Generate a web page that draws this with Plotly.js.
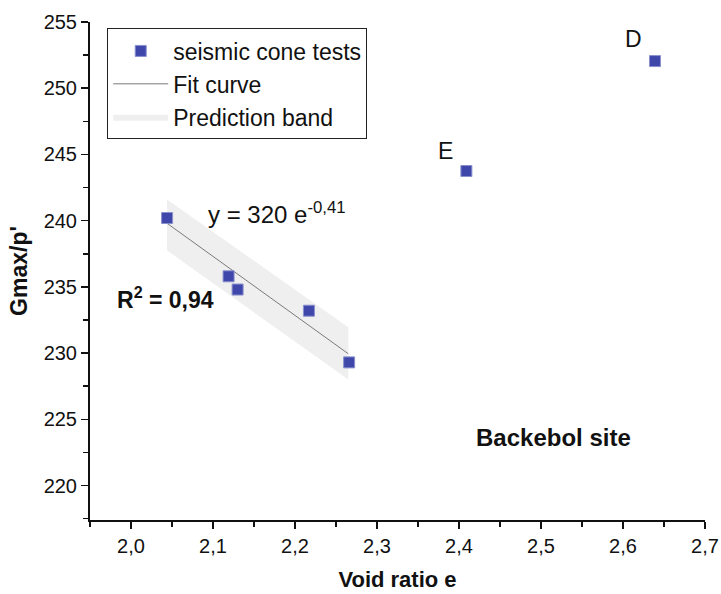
<!DOCTYPE html>
<html>
<head>
<meta charset="utf-8">
<script src="https://cdn.plot.ly/plotly-3.0.1.min.js"></script>
<style>html,body{margin:0;padding:0;background:#fff;}#chart{width:721px;height:594px;}</style>
</head>
<body>
<div id="chart"></div>
<script>
// Measured points (void ratio e, Gmax/p')
const voidRatio = [2.044, 2.119, 2.130, 2.217, 2.266, 2.409, 2.639];
const gmaxRatio = [240.2, 235.8, 234.8, 233.2, 229.3, 243.75, 252.05];
const pointLabels = ["", "", "", "", "", "E", "D"];

// Fit curve
const fitX = [2.044, 2.155, 2.265];
const fitY = [239.8, 234.85, 229.95];

// Prediction band
const bandX = [2.044, 2.265];
const bandUpper = [241.6, 231.95];
const bandLower = [237.75, 228.0];

const font = "Liberation Sans, Arial, sans-serif";

const traces = [
  {x: bandX, y: bandLower, mode: 'lines', line: {width: 0, color: 'rgba(0,0,0,0)'},
   showlegend: false, hoverinfo: 'skip', type: 'scatter'},
  {x: bandX, y: bandUpper, mode: 'lines', line: {width: 0, color: 'rgba(0,0,0,0)'},
   fill: 'tonexty', fillcolor: '#efefef', name: 'Prediction band', legendrank: 3, type: 'scatter'},
  {x: fitX, y: fitY, mode: 'lines', line: {width: 1, color: '#7a7a7a'},
   name: 'Fit curve', legendrank: 2, type: 'scatter'},
  {x: voidRatio, y: gmaxRatio, mode: 'markers', name: 'seismic cone tests', legendrank: 1,
   marker: {symbol: 'square', size: 11, color: '#3F47AB', line: {width: 1, color: '#8a90cc'}},
   type: 'scatter'}
];

const annotations = [
  {x: 2.0917, y: 240.55, xref: 'x', yref: 'y', text: 'y = 320 e<sup>-0,41</sup>', showarrow: false,
   xanchor: 'left', yanchor: 'middle', font: {family: font, size: 24, color: '#111'}},
  {x: 1.9805, y: 234.13, xref: 'x', yref: 'y', text: '<b>R<sup>2</sup> = 0,94</b>', showarrow: false,
   xanchor: 'left', yanchor: 'middle', font: {family: font, size: 23, color: '#111'}},
  {x: 2.5155, y: 223.66, xref: 'x', yref: 'y', text: '<b>Backebol site</b>', showarrow: false,
   xanchor: 'center', yanchor: 'middle', font: {family: font, size: 24, color: '#111'}},
  {x: 2.3836, y: 245.26, xref: 'x', yref: 'y', text: pointLabels[5], showarrow: false,
   xanchor: 'center', yanchor: 'middle', font: {family: font, size: 23, color: '#111'}},
  {x: 2.6124, y: 253.75, xref: 'x', yref: 'y', text: pointLabels[6], showarrow: false,
   xanchor: 'center', yanchor: 'middle', font: {family: font, size: 23, color: '#111'}}
];

const layout = {
  width: 721, height: 594,
  margin: {l: 90, r: 16, t: 22, b: 74},
  paper_bgcolor: '#fff', plot_bgcolor: '#fff',
  separators: ',.',
  font: {family: font, color: '#111'},
  showlegend: true,
  legend: {x: 0.028, y: 0.987, xanchor: 'left', yanchor: 'top',
    bordercolor: '#222', borderwidth: 1, bgcolor: '#fff',
    font: {family: font, size: 23, color: '#111'}, itemwidth: 55,
    tracegroupgap: 0, traceorder: 'normal'},
  xaxis: {range: [1.95, 2.7], dtick: 0.1, tick0: 2.0, tickformat: '.1f',
    showgrid: false, zeroline: false, showline: true, linecolor: '#111', linewidth: 2,
    ticks: 'outside', ticklen: 7, tickwidth: 1.5, tickcolor: '#111',
    minor: {dtick: 0.05, ticks: 'outside', ticklen: 5, tickwidth: 1.5, tickcolor: '#111', showgrid: false},
    tickfont: {family: font, size: 20, color: '#111'},
    title: {text: '<b>Void ratio e</b>', font: {family: font, size: 22, color: '#111'}, standoff: 16}},
  yaxis: {range: [217.4, 255], dtick: 5, tick0: 220,
    showgrid: false, zeroline: false, showline: true, linecolor: '#111', linewidth: 2,
    ticks: 'outside', ticklen: 7, tickwidth: 1.5, tickcolor: '#111',
    minor: {dtick: 2.5, ticks: 'outside', ticklen: 5, tickwidth: 1.5, tickcolor: '#111', showgrid: false},
    tickfont: {family: font, size: 20, color: '#111'},
    title: {text: "<b>Gmax/p'</b>", font: {family: font, size: 23, color: '#111'}, standoff: 10}},
  annotations: annotations
};

Plotly.newPlot('chart', traces, layout, {displayModeBar: false, staticPlot: true});
</script>
</body>
</html>
